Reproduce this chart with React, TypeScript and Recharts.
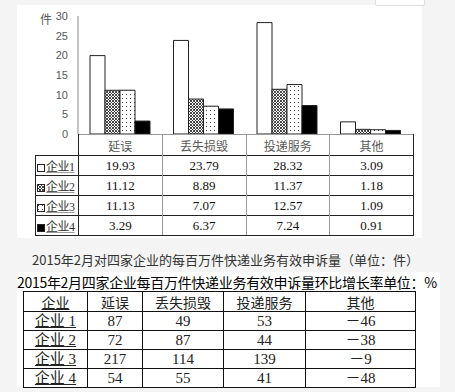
import { BarChart, Bar, XAxis, YAxis } from "recharts";

const categories = ["延误", "丢失损毁", "投递服务", "其他"];
const companies = ["企业1", "企业2", "企业3", "企业4"];
const company1 = [19.93, 23.79, 28.32, 3.09];
const company2 = [11.12, 8.89, 11.37, 1.18];
const company3 = [11.13, 7.07, 12.57, 1.09];
const company4 = [3.29, 6.37, 7.24, 0.91];
const yTicks = [0, 5, 10, 15, 20, 25, 30];

const growthCompanies = ["企业 1", "企业 2", "企业 3", "企业 4"];
const growthHeaders = ["企业", "延误", "丢失损毁", "投递服务", "其他"];
const growth1 = [87, 49, 53, -46];
const growth2 = [72, 87, 44, -38];
const growth3 = [217, 114, 139, -9];
const growth4 = [54, 55, 41, -48];

const seriesValues = [company1, company2, company3, company4];
const growthRows = [growth1, growth2, growth3, growth4];
const fills = ["#ffffff", "url(#crossHatch)", "url(#dots)", "#000000"];

const chartData = categories.map((name, i) => ({
  name,
  c1: company1[i],
  c2: company2[i],
  c3: company3[i],
  c4: company4[i],
}));

const cjkSans = '"Noto Sans CJK SC", "Noto Sans", sans-serif';
const serif = '"Liberation Serif", "Noto Sans CJK SC", serif';

const fmt = (v: number) => (v < 0 ? "－" + Math.abs(v) : String(v));

function LegendKey({ fill }: { fill: string }) {
  return (
    <svg width={8} height={8} style={{ marginRight: 1, verticalAlign: "-1px" }}>
      <rect x={0.5} y={0.5} width={7} height={7} fill={fill} stroke="#222" />
    </svg>
  );
}

export default function App() {
  const dataCell = { borderTop: "1px solid #222", textAlign: "center" as const, height: 19, padding: 0 };
  const growthCell = {
    border: "1px solid #111",
    padding: 0,
    height: 18,
    textAlign: "center" as const,
    fontFamily: serif,
    fontSize: 15,
    lineHeight: "18px",
    color: "#222",
  };
  return (
    <div
      style={{
        position: "absolute",
        left: 0,
        top: 0,
        width: 455,
        height: 392,
        background: "#f4f4f4",
        overflow: "hidden",
      }}
    >
      {/* shared fill patterns */}
      <svg width={0} height={0} style={{ position: "absolute" }}>
        <defs>
          <pattern id="crossHatch" width={3} height={3} patternUnits="userSpaceOnUse">
            <rect width={3} height={3} fill="#ffffff" />
            <path d="M0,0 L3,3 M3,0 L0,3" stroke="#333" strokeWidth={0.9} />
          </pattern>
          <pattern id="dots" width={4} height={4} patternUnits="userSpaceOnUse">
            <rect width={4} height={4} fill="#ffffff" />
            <rect x={1} y={1} width={1} height={1} fill="#444" />
          </pattern>
        </defs>
      </svg>

      {/* top white panel */}
      <div style={{ position: "absolute", left: 17, top: 5, width: 405, height: 233, background: "#fff" }} />
      <div
        style={{
          position: "absolute",
          left: 375,
          top: -3,
          width: 48,
          height: 7,
          background: "#fff",
          border: "1px solid #ddd",
          borderRadius: 2,
        }}
      />

      <div style={{ position: "absolute", left: 40, top: 10, fontSize: 12, color: "#595959", fontFamily: cjkSans }}>
        件
      </div>

      <div style={{ position: "absolute", left: 17, top: 5 }}>
        <BarChart
          width={405}
          height={141}
          data={chartData}
          margin={{ top: 11, right: 10, bottom: 12, left: 0 }}
          barSize={15}
          barGap={0}
        >
          <XAxis dataKey="name" hide />
          <YAxis
            width={61}
            domain={[0, 30]}
            ticks={yTicks}
            tickLine={false}
            axisLine={{ stroke: "#868686" }}
            tickSize={8}
            tickMargin={2}
            tick={{ fill: "#595959", fontSize: 11, fontFamily: '"Liberation Sans", sans-serif' }}
            interval={0}
          />
          {["c1", "c2", "c3", "c4"].map((k, i) => (
            <Bar
              key={k}
              dataKey={k}
              fill={fills[i]}
              stroke="#222"
              strokeWidth={1}
              isAnimationActive={false}
            />
          ))}
        </BarChart>
      </div>

      {/* data table under chart */}
      <table
        style={{
          position: "absolute",
          left: 35,
          top: 134,
          width: 378,
          borderCollapse: "collapse",
          tableLayout: "fixed",
          fontSize: 13,
        }}
      >
        <colgroup>
          <col style={{ width: 43 }} />
          {categories.map((c) => (
            <col key={c} style={{ width: 83.75 }} />
          ))}
        </colgroup>
        <tbody>
          <tr>
            <td style={{ padding: 0, height: 20, borderRight: "1px solid #222" }} />
            {categories.map((c, i) => (
              <td
                key={c}
                style={{
                  padding: 0,
                  height: 20,
                  textAlign: "center",
                  color: "#595959",
                  fontFamily: cjkSans,
                  fontSize: 12,
                  borderTop: "1px solid #999",
                  borderRight: i === 3 ? "1px solid #222" : "1px solid #999",
                }}
              >
                {c}
              </td>
            ))}
          </tr>
          {companies.map((co, r) => (
            <tr key={co}>
              <td
                style={{
                  ...dataCell,
                  borderLeft: "1px solid #222",
                  borderRight: "1px solid #222",
                  borderBottom: r === 3 ? "1px solid #222" : undefined,
                  textAlign: "left",
                  paddingLeft: 1,
                  fontFamily: serif,
                  fontSize: 12,
                  letterSpacing: -0.5,
                  color: "#333",
                  whiteSpace: "nowrap",
                  overflow: "visible",
                }}
              >
                <LegendKey fill={fills[r]} />
                <span style={{ textDecoration: "underline", textDecorationColor: "#999" }}>{co}</span>
              </td>
              {seriesValues[r].map((v, i) => (
                <td
                  key={i}
                  style={{
                    ...dataCell,
                    borderBottom: r === 3 ? "1px solid #222" : undefined,
                    borderRight: i === 3 ? "1px solid #222" : "1px solid #999",
                    fontFamily: serif,
                    color: "#111",
                  }}
                >
                  {v.toFixed(2)}
                </td>
              ))}
            </tr>
          ))}
        </tbody>
      </table>

      {/* caption */}
      <div
        style={{
          position: "absolute",
          left: 32,
          top: 250,
          fontSize: 13,
          color: "#333",
          fontFamily: cjkSans,
          whiteSpace: "nowrap",
        }}
      >
        2015年2月对四家企业的每百万件快递业务有效申诉量（单位：件）
      </div>

      {/* bottom white panel */}
      <div style={{ position: "absolute", left: 17, top: 272, width: 423, height: 115, background: "#fff" }} />
      <div
        style={{
          position: "absolute",
          left: 17,
          top: 273,
          fontSize: 14,
          letterSpacing: -0.3,
          color: "#000",
          fontFamily: cjkSans,
          whiteSpace: "nowrap",
          lineHeight: "18px",
        }}
      >
        2015年2月四家企业每百万件快递业务有效申诉量环比增长率单位：%
      </div>

      <table
        style={{
          position: "absolute",
          left: 23,
          top: 291,
          width: 392,
          borderCollapse: "collapse",
          tableLayout: "fixed",
          fontSize: 15,
        }}
      >
        <colgroup>
          <col style={{ width: 64 }} />
          <col style={{ width: 55 }} />
          <col style={{ width: 81 }} />
          <col style={{ width: 82 }} />
          <col style={{ width: 110 }} />
        </colgroup>
        <tbody>
          <tr>
            {growthHeaders.map((h, i) => (
              <td
                key={h}
                style={{
                  ...growthCell,
                  height: 19,
                  fontFamily: cjkSans,
                  fontSize: 14,
                }}
              >
                {i === 0 ? <span style={{ textDecoration: "underline" }}>{h}</span> : h}
              </td>
            ))}
          </tr>
          {growthCompanies.map((co, r) => (
            <tr key={co}>
              <td style={growthCell}>
                <span style={{ textDecoration: "underline" }}>{co}</span>
              </td>
              {growthRows[r].map((v, i) => (
                <td key={i} style={growthCell}>
                  {fmt(v)}
                </td>
              ))}
            </tr>
          ))}
        </tbody>
      </table>
    </div>
  );
}
